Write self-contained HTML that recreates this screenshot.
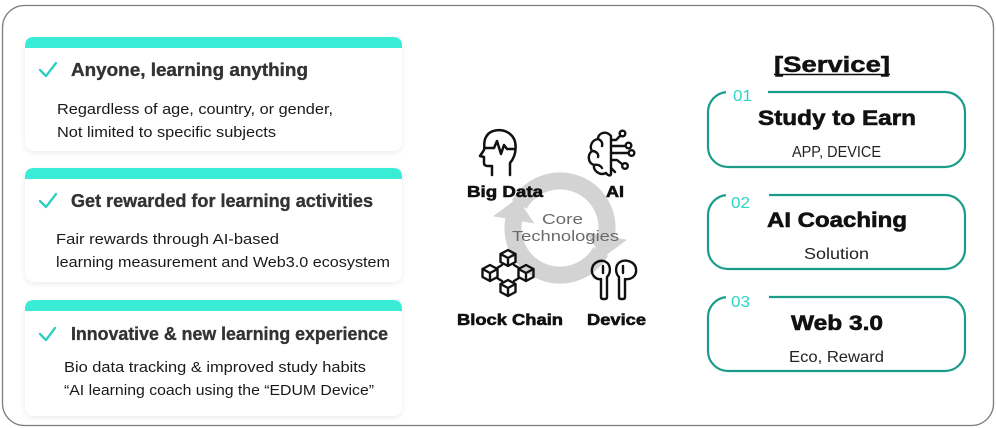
<!DOCTYPE html>
<html><head><meta charset="utf-8"><style>
html,body{margin:0;padding:0;background:#fff;}
svg{display:block;}
text{font-family:"Liberation Sans","Noto Sans CJK KR",sans-serif;}
</style></head><body>
<svg width="996" height="428" viewBox="0 0 996 428" xmlns="http://www.w3.org/2000/svg">
<defs>
<filter id="sh" x="-10%" y="-20%" width="120%" height="150%">
<feDropShadow dx="0" dy="1.5" stdDeviation="3" flood-color="#000" flood-opacity="0.08"/>
</filter>
</defs>
<rect x="2.5" y="5.5" width="991" height="420" rx="22" ry="22" fill="#fff" stroke="#7d7d7d" stroke-width="1.3"/>

<!-- Cards -->
<g filter="url(#sh)">
<rect x="25" y="37" width="377" height="114" rx="9" fill="#fff"/>
<rect x="25" y="168" width="377" height="114" rx="9" fill="#fff"/>
<rect x="25" y="300" width="377" height="116" rx="9" fill="#fff"/>
</g>
<path d="M25,48 V46 Q25,37 34,37 H393 Q402,37 402,46 V48 Z" fill="#38ecd6"/>
<path d="M25,179 V177 Q25,168 34,168 H393 Q402,168 402,177 V179 Z" fill="#38ecd6"/>
<path d="M25,311 V309 Q25,300 34,300 H393 Q402,300 402,309 V311 Z" fill="#38ecd6"/>

<g fill="none" stroke="#2ccfc0" stroke-width="2.3" stroke-linecap="round" stroke-linejoin="round">
<polyline points="40,70 46,76 56,63"/>
<polyline points="40,201 46,207 56,194"/>
<polyline points="40,334 46,340 55,328"/>
</g>

<g font-weight="bold" fill="#333" stroke="#333" stroke-width="0.35" font-size="18.5">
<text x="71" y="76" textLength="237" lengthAdjust="spacingAndGlyphs">Anyone, learning anything</text>
<text x="71" y="207" textLength="302" lengthAdjust="spacingAndGlyphs">Get rewarded for learning activities</text>
<text x="71" y="340" textLength="317" lengthAdjust="spacingAndGlyphs">Innovative &amp; new learning experience</text>
</g>
<g fill="#1a1a1a" font-size="14.5">
<text x="57" y="114" textLength="276" lengthAdjust="spacingAndGlyphs">Regardless of age, country, or gender,</text>
<text x="57" y="137" textLength="219" lengthAdjust="spacingAndGlyphs">Not limited to specific subjects</text>
<text x="56" y="244" textLength="223" lengthAdjust="spacingAndGlyphs">Fair rewards through AI-based</text>
<text x="56" y="267" textLength="334" lengthAdjust="spacingAndGlyphs">learning measurement and Web3.0 ecosystem</text>
<text x="64" y="372" textLength="302" lengthAdjust="spacingAndGlyphs">Bio data tracking &amp; improved study habits</text>
<text x="64" y="395" textLength="310" lengthAdjust="spacingAndGlyphs">“AI learning coach using the “EDUM Device”</text>
</g>

<!-- Core cycle arrows -->
<g fill="#d3d3d3">
<path d="M519.3,204.5 A47,47 0 0 1 606.3,236.2" fill="none" stroke="#d3d3d3" stroke-width="17"/>
<polygon points="585.6,232.5 627,239.8 602.5,257.9"/>
<path d="M600.7,251.5 A47,47 0 0 1 513.7,219.8" fill="none" stroke="#d3d3d3" stroke-width="17"/>
<polygon points="534.4,223.5 493,216.2 517.5,198.2"/>
</g>

<!-- Big Data head icon -->
<g fill="none" stroke="#111" stroke-width="2.5" stroke-linejoin="round" stroke-linecap="round">
<path d="M510,175 L510,163 C517,155 518,140 510,134 C503,128 490,129 486,137 C483,142 485,147 484,150 L480,156 L484,157 L484,163 Q484,166 488,166 L492,166 L492,175"/>
<path d="M485,148 L494,148 L497,141 L501,154 L504,145 L507,149 L515,149"/>
</g>

<!-- AI brain icon -->
<g fill="none" stroke="#111" stroke-width="2.4" stroke-linejoin="round" stroke-linecap="round">
<path d="M611,136 C606,130 598,133 598,139 C592,140 589,146 592,151 C587,155 588,163 594,165 C593,171 600,176 606,173 C608,176 611,176 611,174 Z"/>
<path d="M598,139 C601,140 603,143 602,146"/>
<path d="M592,151 C596,151 599,154 598,157"/>
<path d="M594,165 C598,164 601,166 602,168"/>
<path d="M611,140 L616,140 L620,136"/>
<circle cx="622.5" cy="133.5" r="2.8"/>
<path d="M611,146 L625,146"/>
<circle cx="628.5" cy="145.5" r="2.8"/>
<path d="M611,153 L628,153"/>
<circle cx="631.5" cy="153" r="2.8"/>
<path d="M611,160 L617,160 L622,164"/>
<circle cx="625" cy="166" r="2.8"/>
<path d="M611,168 L615,172"/>
</g>

<!-- Block chain icon -->
<g fill="none" stroke="#111" stroke-width="2.4" stroke-linejoin="round" stroke-linecap="round">
<path d="M502,265 L497,268 M514,265 L519,268 M497,278 L502,281 M519,278 L514,281"/>
<path d="M508,250 L515.5,254 L515.5,262 L508,266 L500.5,262 L500.5,254 Z M500.5,254 L508,258 L515.5,254 M508,258 L508,266"/>
<path d="M490,265 L497.5,269 L497.5,277 L490,281 L482.5,277 L482.5,269 Z M482.5,269 L490,273 L497.5,269 M490,273 L490,281"/>
<path d="M526,265 L533.5,269 L533.5,277 L526,281 L518.5,277 L518.5,269 Z M518.5,269 L526,273 L533.5,269 M526,273 L526,281"/>
<path d="M508,280 L515.5,284 L515.5,292 L508,296 L500.5,292 L500.5,284 Z M500.5,284 L508,288 L515.5,284 M508,288 L508,296"/>
</g>

<!-- Device earbuds -->
<g fill="none" stroke="#111" stroke-width="2.4" stroke-linejoin="round" stroke-linecap="round">
<path d="M607,277 C611,273 611,265 606,262 C601,259 593,262 592,269 C591,275 596,280 601,279 L601,297 Q601,299 603,299 L605,299 Q607,299 607,297 Z"/>
<path d="M603,266 L603,273"/>
<path d="M619,277 C615,273 615,265 620,262 C625,259 635,261 636,269 C637,276 631,280 625,279 L625,297 Q625,299 623,299 L621,299 Q619,299 619,297 Z"/>
<path d="M623,266 L623,273"/>
</g>

<g font-weight="bold" fill="#111" stroke="#111" stroke-width="0.6" font-size="15.5">
<text x="467" y="197" textLength="76" lengthAdjust="spacingAndGlyphs">Big Data</text>
<text x="606" y="197" textLength="18" lengthAdjust="spacingAndGlyphs">AI</text>
<text x="457" y="325" textLength="106" lengthAdjust="spacingAndGlyphs">Block Chain</text>
<text x="587" y="325" textLength="59" lengthAdjust="spacingAndGlyphs">Device</text>
</g>
<g fill="#6a6a6a" font-size="15">
<text x="542" y="224" textLength="41" lengthAdjust="spacingAndGlyphs">Core</text>
<text x="512" y="241" textLength="107" lengthAdjust="spacingAndGlyphs">Technologies</text>
</g>

<!-- Service -->
<text x="774" y="72" font-size="22" font-weight="bold" fill="#111" stroke="#111" stroke-width="0.5" textLength="116" lengthAdjust="spacingAndGlyphs">[Service]</text>
<line x1="774" y1="74.5" x2="890" y2="74.5" stroke="#111" stroke-width="1.5"/>

<g fill="none" stroke="#1a9c8a" stroke-width="2.2">
<path d="M768,92 H945 A20,20 0 0 1 965,112 V147 A20,20 0 0 1 945,167 H728 A20,20 0 0 1 708,147 V112 A20,20 0 0 1 726,92.1"/>
<path d="M769,195 H945 A20,20 0 0 1 965,215 V249 A20,20 0 0 1 945,269 H728 A20,20 0 0 1 708,249 V215 A20,20 0 0 1 726,195.1"/>
<path d="M769,297 H945 A20,20 0 0 1 965,317 V351 A20,20 0 0 1 945,371 H728 A20,20 0 0 1 708,351 V317 A20,20 0 0 1 726,297.1"/>
</g>
<g fill="#2cd5c4" font-size="16">
<text x="733" y="101" textLength="19" lengthAdjust="spacingAndGlyphs">01</text>
<text x="731" y="208" textLength="19" lengthAdjust="spacingAndGlyphs">02</text>
<text x="731" y="307" textLength="19" lengthAdjust="spacingAndGlyphs">03</text>
</g>
<g font-weight="bold" fill="#111" stroke="#111" stroke-width="0.6" font-size="21">
<text x="758" y="125" textLength="158" lengthAdjust="spacingAndGlyphs">Study to Earn</text>
<text x="767" y="227" textLength="140" lengthAdjust="spacingAndGlyphs">AI Coaching</text>
<text x="791" y="330" textLength="92" lengthAdjust="spacingAndGlyphs">Web 3.0</text>
</g>
<g fill="#222" font-size="16">
<text x="792" y="157" textLength="89" lengthAdjust="spacingAndGlyphs">APP, DEVICE</text>
<text x="804" y="259" textLength="65" lengthAdjust="spacingAndGlyphs">Solution</text>
<text x="789" y="362" textLength="95" lengthAdjust="spacingAndGlyphs">Eco, Reward</text>
</g>
</svg>
</body></html>
